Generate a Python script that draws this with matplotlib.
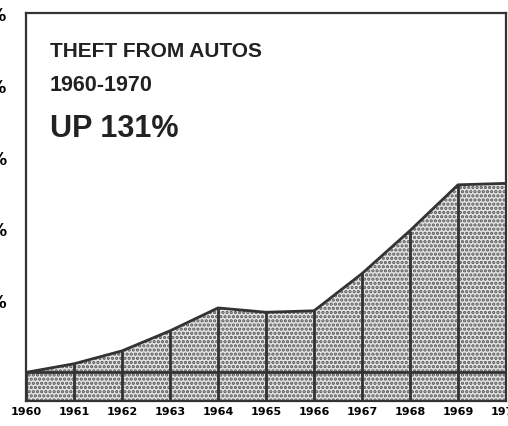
import numpy as np
import matplotlib.pyplot as plt

years = [1960, 1961, 1962, 1963, 1964, 1965, 1966, 1967, 1968, 1969, 1970]
pct_change = [0, 6, 15, 29, 45, 42, 43, 69, 99, 131, 132]
y_ticks = [50, 100, 150, 200, 250]
y_labels = ["50%", "100%", "150%", "200%", "250%"]

plt.rcParams['hatch.linewidth'] = 1.6
plt.rcParams['hatch.color'] = '#555555'

sans = ['Liberation Sans', 'DejaVu Sans']

fig = plt.figure(figsize=(5.08, 4.26), dpi=100)
ax = fig.add_axes([26 / 508, 25 / 426, 480 / 508, 388 / 426])

# stippled area
ax.fill_between(years, -20, pct_change, facecolor='#e4e4e4', hatch='....',
                edgecolor='#555555', linewidth=0)
ax.plot(years, pct_change, color='#333333', lw=2)
ax.vlines(years, -20, pct_change, color='#333333', lw=2)
ax.axhline(0, color='#333333', lw=2)

ax.set_xlim(1960, 1970)
ax.set_ylim(-20, 251)
ax.set_xticks(years)
ax.set_xticklabels([str(y) for y in years], fontsize=8, fontweight='bold')
ax.set_yticks(y_ticks)
ax.set_yticklabels(y_labels, fontsize=12, fontweight='bold')
ax.tick_params(axis='x', length=0, pad=4)
ax.tick_params(axis='y', length=0, pad=13.5)
for s in ax.spines.values():
    s.set_linewidth(1.6)
    s.set_color('#333333')

fig.text(50 / 508, 1 - 42 / 426, "THEFT FROM AUTOS", fontsize=15,
         family=sans, fontweight='bold', va='top', ha='left', color='#222222')
fig.text(50 / 508, 1 - 75 / 426, "1960-1970", fontsize=15.5,
         family=sans, fontweight='bold', va='top', ha='left', color='#222222')
fig.text(50 / 508, 1 - 114 / 426, "UP 131%", fontsize=22,
         family=sans, fontweight='bold', va='top', ha='left', color='#222222')

fig.savefig("out.png", dpi=100)
